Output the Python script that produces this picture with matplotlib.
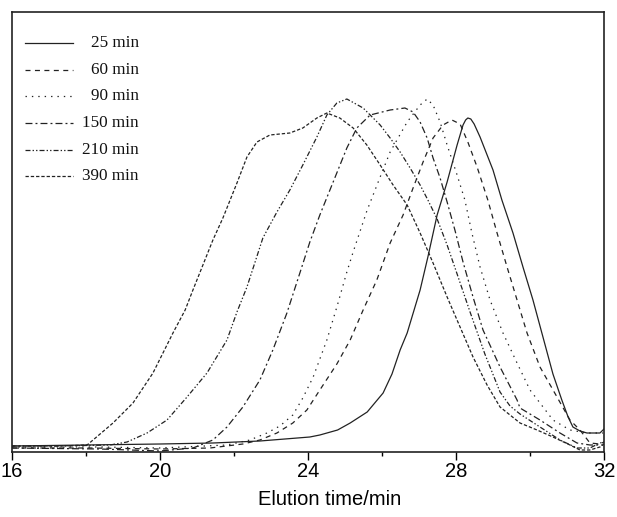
import matplotlib
matplotlib.use("Agg")
import matplotlib.pyplot as plt
from matplotlib.ticker import MultipleLocator

# elution time (min) and detector response (a.u.)
t_25 = [16.00, 20.00, 21.43, 22.70, 24.05, 24.32, 24.80, 25.14, 25.60, 26.03, 26.27, 26.49,
        26.68, 27.03, 27.24, 27.49, 27.76, 28.03, 28.19, 28.26, 28.32, 28.40, 28.49, 28.65,
        29.00, 29.24, 29.54, 29.81, 30.08, 30.35, 30.62, 30.86, 31.03, 31.16, 31.35, 31.54,
        31.89, 32.00]
r_25 = [6, 8, 9, 11, 15, 17, 22, 29, 40, 59, 78, 102,
        119, 162, 195, 237, 270, 307, 327, 332, 334, 333, 328, 315,
        282, 252, 219, 185, 152, 115, 78, 52, 35, 25, 21, 19,
        19, 23]

t_60 = [16.00, 18.11, 20.00, 21.35, 22.24, 22.70, 23.16, 23.59, 23.97, 24.32, 24.78, 25.14,
        25.49, 25.86, 26.22, 26.57, 26.84, 27.11, 27.38, 27.65, 27.89, 28.11, 28.32, 28.57,
        28.86, 29.11, 29.38, 29.65, 29.92, 30.27, 30.73, 31.08, 31.35, 31.62, 31.89, 32.00]
r_60 = [4, 4, 3, 4, 8, 12, 19, 29, 42, 62, 88, 112,
        142, 172, 209, 237, 264, 290, 314, 327, 332, 328, 310, 285,
        252, 219, 185, 152, 119, 85, 55, 32, 22, 9, 8, 10]

t_90 = [16.00, 18.38, 20.00, 21.81, 22.43, 22.89, 23.24, 23.59, 23.86, 24.14, 24.32, 24.51,
        24.78, 25.05, 25.22, 25.59, 25.95, 26.22, 26.68, 27.03, 27.22, 27.38, 27.57, 27.76,
        28.03, 28.24, 28.43, 28.65, 28.92, 29.27, 29.65, 30.00, 30.27, 30.62, 31.08, 31.54, 31.97]
r_90 = [5, 5, 4, 7, 12, 19, 26, 37, 54, 75, 93, 112,
        145, 180, 200, 241, 275, 300, 330, 347, 353, 347, 330, 307,
        277, 252, 219, 185, 152, 119, 89, 62, 49, 32, 22, 19, 19]

t_150 = [16.00, 18.38, 20.00, 20.89, 21.43, 21.81, 22.24, 22.70, 23.05, 23.43, 23.78, 24.05,
         24.32, 24.68, 25.05, 25.32, 25.68, 26.22, 26.62, 26.84, 27.03, 27.22, 27.38, 27.57,
         27.76, 27.97, 28.19, 28.46, 28.73, 29.19, 29.65, 29.73, 30.27, 30.81, 31.27, 31.62, 31.97]
r_150 = [4, 3, 1, 4, 12, 25, 45, 72, 102, 139, 179, 210,
         237, 270, 304, 324, 337, 342, 344, 340, 330, 314, 294, 274,
         250, 222, 190, 155, 122, 85, 52, 44, 32, 19, 9, 7, 7]

t_210 = [16.00, 17.30, 18.65, 19.11, 19.65, 20.19, 20.73, 21.27, 21.81, 22.08, 22.35, 22.57,
         22.78, 23.16, 23.51, 23.86, 24.24, 24.51, 24.78, 25.05, 25.49, 25.68, 25.95, 26.22,
         26.49, 26.76, 27.03, 27.24, 27.49, 27.76, 28.03, 28.38, 28.78, 29.19, 29.46, 29.73,
         30.27, 30.81, 31.27, 31.62, 31.89, 32.00]
r_210 = [6, 6, 7, 10, 19, 32, 55, 79, 112, 140, 165, 190,
         214, 240, 262, 287, 315, 337, 349, 353, 344, 337, 327, 314,
         300, 284, 267, 252, 233, 207, 178, 140, 98, 60, 46, 38,
         25, 12, 4, 4, 9, 10]

t_390 = [16.00, 17.30, 18.03, 18.19, 18.73, 19.27, 19.81, 20.35, 20.68, 20.89, 21.43, 21.70,
         22.08, 22.35, 22.62, 22.97, 23.51, 23.86, 24.24, 24.51, 24.86, 25.22, 25.59, 25.95,
         26.30, 26.68, 27.03, 27.38, 27.76, 28.11, 28.46, 28.84, 29.19, 29.73, 30.19, 30.62,
         31.08, 31.35, 31.62, 31.89, 32.00]
r_390 = [6, 6, 7, 12, 29, 49, 79, 119, 142, 162, 212, 234,
         269, 295, 310, 317, 319, 324, 334, 339, 334, 324, 307, 287,
         267, 247, 219, 189, 155, 125, 95, 67, 45, 29, 22, 15,
         7, 2, 2, 5, 8]

labels = ["25 min", "60 min", "90 min", "150 min", "210 min", "390 min"]
times = [t_25, t_60, t_90, t_150, t_210, t_390]
resp = [r_25, r_60, r_90, r_150, r_210, r_390]
styles = ["-", (0, (3.6, 3.2)), (0, (1, 3.6)), (0, (5, 2.2, 1.4, 2.2)),
          (0, (3.6, 1.5, 1, 1.5, 1, 1.5)), (0, (2.4, 1.4))]

plt.rcParams["lines.scale_dashes"] = False

fig = plt.figure(figsize=(6.17, 5.17), dpi=100)
ax = fig.add_axes([12 / 617, 65 / 517, 592 / 617, 440 / 517])

for t, r, ls in zip(times, resp, styles):
    ax.plot(t, r, color="#222222", lw=0.9, linestyle=ls)

# legend drawn by hand so the labels are right aligned like the original
for i, (lab, ls) in enumerate(zip(labels, styles)):
    yy = 0.9295 - i * 0.0605
    ax.plot([0.022, 0.103], [yy, yy], transform=ax.transAxes, color="#222222",
            lw=0.9, linestyle=ls)
    ax.text(0.2145, yy, lab, transform=ax.transAxes, ha="right", va="center",
            family="Liberation Serif", fontsize=12.3, color="#111111")

ax.set_xlim(16, 32)
ax.set_ylim(0, 440)
ax.xaxis.set_major_locator(MultipleLocator(4))
ax.xaxis.set_minor_locator(MultipleLocator(2))
ax.set_yticks([])
ax.tick_params(axis="x", which="major", direction="out", length=6, width=1, pad=1.5,
               labelsize=14.5)
ax.tick_params(axis="x", which="minor", direction="out", length=3, width=1)
for lab in ax.get_xticklabels():
    lab.set_family("Liberation Sans")
for sp in ax.spines.values():
    sp.set_linewidth(1.2)
    sp.set_color("#222222")

ax.set_xlabel("Elution time/min", family="Liberation Sans", fontsize=14.5)
ax.xaxis.set_label_coords(0.537, -0.087)
ax.xaxis.label.set_va("top")

fig.savefig("out.png", dpi=100)
